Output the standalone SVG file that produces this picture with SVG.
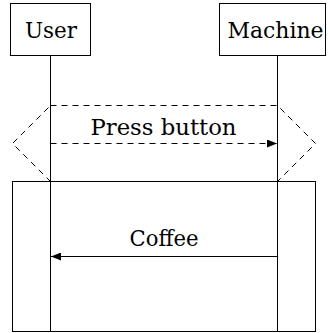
<svg xmlns="http://www.w3.org/2000/svg" width="328" height="333" viewBox="0 0 328 333">
  <style>
    .box { fill: #fff; stroke: #000; stroke-width: 1; }
    .life { stroke: #000; stroke-width: 1; fill: none; }
    .dash { stroke: #000; stroke-width: 1; fill: none; stroke-dasharray: 6 5; }
    .msg { stroke: #000; stroke-width: 1; fill: none; }
    .lbl { font-family: 'DejaVu Serif', 'Liberation Serif', serif; font-size: 22px; fill: #000; }
  </style>
  <defs>
    <marker id="head" viewBox="0 0 10 8" refX="10" refY="4" markerWidth="10" markerHeight="8" markerUnits="userSpaceOnUse" orient="auto">
      <path d="M0,0 L10,4 L0,8 Z" fill="#000"/>
    </marker>
  </defs>

  <!-- lifelines -->
  <g id="lifelines">
    <line class="life" x1="50.5" y1="55" x2="50.5" y2="332"/>
    <line class="life" x1="277.5" y1="55" x2="277.5" y2="332"/>
  </g>

  <!-- participants -->
  <g id="user">
    <rect class="box" x="10.5" y="3.5" width="80" height="52"/>
    <text class="lbl" x="51" y="38" text-anchor="middle" textLength="52" lengthAdjust="spacingAndGlyphs">User</text>
  </g>
  <g id="machine">
    <rect class="box" x="219.5" y="3.5" width="106" height="52"/>
    <text class="lbl" x="275.5" y="38" text-anchor="middle" textLength="96" lengthAdjust="spacingAndGlyphs">Machine</text>
  </g>

  <!-- optional (dashed hexagon) fragment -->
  <g id="fragment-opt">
    <polygon class="dash" points="50.5,105.5 277.5,105.5 315.5,143.5 277.5,181.5 50.5,181.5 12.5,143.5"/>
  </g>

  <!-- loop (solid) fragment -->
  <g id="fragment-loop">
    <rect fill="none" stroke="#000" stroke-width="1" x="12.5" y="181.5" width="303" height="150"/>
  </g>

  <!-- messages -->
  <g id="connectors">
    <line class="dash" x1="50.5" y1="143.5" x2="277" y2="143.5" marker-end="url(#head)"/>
    <line class="msg" x1="277" y1="256.5" x2="51" y2="256.5" marker-end="url(#head)"/>
  </g>
  <g id="labels">
    <text class="lbl" x="163.5" y="135" text-anchor="middle" textLength="146" lengthAdjust="spacingAndGlyphs">Press button</text>
    <text class="lbl" x="164" y="245.5" text-anchor="middle" textLength="69" lengthAdjust="spacingAndGlyphs">Coffee</text>
  </g>
</svg>
